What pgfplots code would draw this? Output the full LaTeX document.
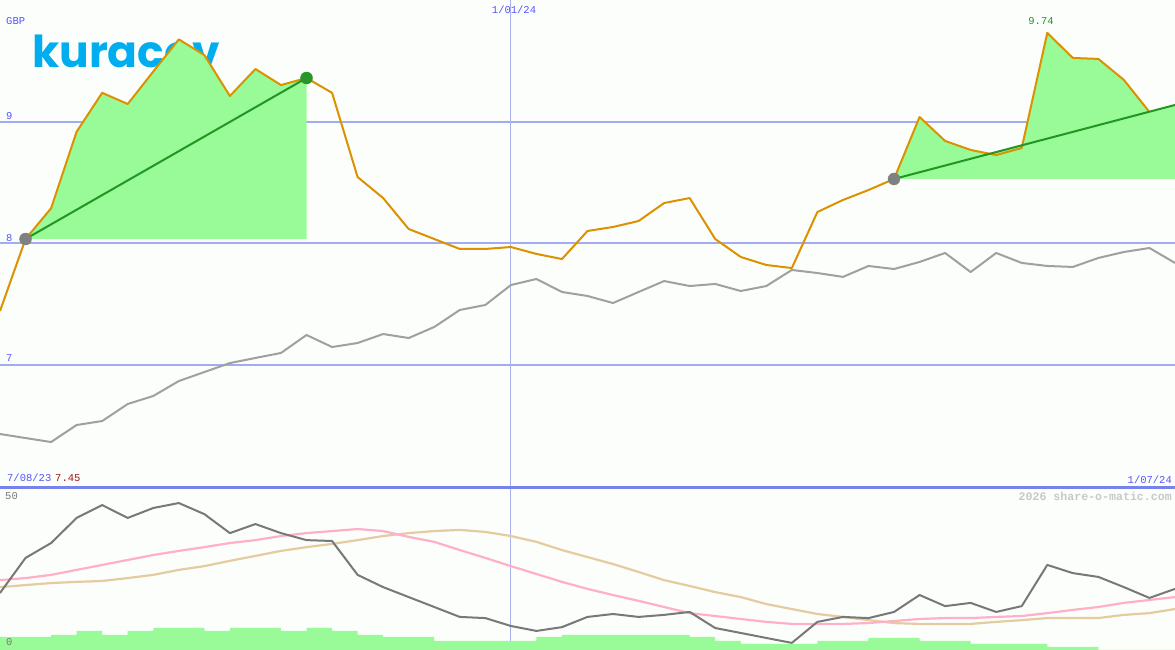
\documentclass[border=0pt]{standalone}
\usepackage{pgfplots}
\pgfplotsset{compat=1.18}
\usepackage{fontspec}
\setmainfont{Liberation Sans}
\newfontfamily\monofont{Liberation Mono}
\newfontfamily\logofont{Poppins}

\definecolor{bgcol}{RGB}{252,254,252}
\definecolor{gridblue}{RGB}{162,172,240}
\definecolor{vlineblue}{RGB}{170,176,236}
\definecolor{borderblue}{RGB}{120,130,236}
\definecolor{labelblue}{RGB}{85,85,255}
\definecolor{pricecol}{RGB}{220,145,0}
\definecolor{fillgreen}{RGB}{152,251,152}
\definecolor{trendgreen}{RGB}{34,150,34}
\definecolor{avgrey}{RGB}{160,160,160}
\definecolor{dotgrey}{RGB}{128,128,128}
\definecolor{dotgreen}{RGB}{40,150,40}
\definecolor{oscgrey}{RGB}{120,120,120}
\definecolor{oscpink}{RGB}{255,176,200}
\definecolor{osctan}{RGB}{228,204,160}
\definecolor{wmgrey}{RGB}{200,200,200}
\definecolor{startred}{RGB}{160,20,20}
\definecolor{logoblue}{RGB}{0,174,239}

\pgfplotsset{
  panel/.style={scale only axis, width=1175pt, xmin=0, xmax=46,
    axis line style={draw=none},
    xtick=\empty, ytick=\empty, clip=true},
}

% weekly closes, GBP (x = week from 7/08/23)
\pgfplotstableread{
x price
0 7.444
1 8.037
2 8.29
3 8.92
4 9.24
5 9.148
6 9.415
7 9.68
8 9.551
9 9.214
10 9.436
11 9.304
12 9.362
13 9.24
14 8.547
15 8.374
16 8.119
17 8.037
18 7.955
19 7.955
20 7.971
21 7.914
22 7.872
23 8.103
24 8.136
25 8.185
26 8.333
27 8.374
28 8.037
29 7.889
30 7.823
31 7.798
32 8.259
33 8.358
34 8.44
35 8.531
36 9.041
37 8.844
38 8.77
39 8.728
40 8.786
41 9.733
42 9.527
43 9.519
44 9.346
45 9.082
}\pricetab

% moving average
\pgfplotstableread{
x avg
0 6.432
1 6.399
2 6.366
3 6.506
4 6.539
5 6.679
6 6.745
7 6.868
8 6.942
9 7.016
10 7.058
11 7.099
12 7.247
13 7.148
14 7.181
15 7.255
16 7.222
17 7.313
18 7.453
19 7.494
20 7.658
21 7.708
22 7.601
23 7.568
24 7.510
25 7.601
26 7.691
27 7.650
28 7.667
29 7.609
30 7.650
31 7.782
32 7.757
33 7.725
34 7.815
35 7.790
36 7.848
37 7.922
38 7.765
39 7.922
40 7.840
41 7.815
42 7.807
43 7.881
44 7.930
45 7.963
46 7.840
}\avgtab

% lower panel: oscillator and its two averages
\pgfplotstableread{
x osc pink tan
0 18.5 22.9 20.5
1 30.5 23.6 21.2
2 35.6 24.7 21.9
3 44.2 26.4 22.3
4 48.6 28.1 22.6
5 44.2 29.8 23.6
6 47.6 31.5 24.7
7 49.3 32.9 26.4
8 45.5 34.2 27.7
9 39.0 35.6 29.5
10 42.1 36.6 31.2
11 39.0 38.0 32.9
12 36.6 39.0 34.2
13 36.3 39.7 35.3
14 24.7 40.4 36.6
15 20.5 39.7 38.0
16 17.1 37.7 39.0
17 13.7 36.0 39.7
18 10.3 33.2 40.1
19 9.9 30.5 39.4
20 7.2 27.7 38.0
21 5.5 25.0 36.0
22 6.8 22.3 33.2
23 10.3 19.9 30.8
24 11.3 17.8 28.4
25 10.3 15.8 25.7
26 11.0 13.7 22.9
27 12.0 11.6 20.9
28 6.5 10.6 18.8
29 4.8 9.6 17.1
30 3.1 8.6 14.7
31 1.4 7.9 13.0
32 8.6 7.9 11.3
33 10.3 7.9 10.3
34 9.9 8.2 9.2
35 12.0 8.9 8.2
36 17.8 9.6 7.9
37 14.0 9.9 7.9
38 15.1 9.9 7.9
39 12.0 10.3 8.6
40 14.0 10.6 9.2
41 28.1 11.6 9.9
42 25.3 12.7 9.9
43 24.0 13.7 9.9
44 20.5 15.1 11.0
45 16.8 16.1 11.6
46 19.9 17.1 13.0
}\osctab

\begin{document}
\begin{tikzpicture}[x=1pt,y=1pt]
\fill[bgcol] (0,0) rectangle (1175,650);
\node[anchor=base west, inner sep=0, text=logoblue,
  font=\logofont\bfseries\fontsize{44}{44}\selectfont] at (32,582.5) {kuracov};

% price panel
\begin{axis}[panel, anchor=north west, at={(0pt,650pt)}, height=487pt, ymin=5.996, ymax=10.004]
  \addplot[gridblue, line width=2pt] coordinates {(0,9) (46,9)};
  \addplot[gridblue, line width=2pt] coordinates {(0,8) (46,8)};
  \addplot[gridblue, line width=2pt] coordinates {(0,7) (46,7)};
  \addplot[vlineblue, line width=1pt] coordinates {(20,5.996) (20,10.004)};
  % rising stretches
  \addplot[fill=fillgreen, draw=none] coordinates {
    (1,8.037) (2,8.29) (3,8.92) (4,9.24) (5,9.148) (6,9.415) (7,9.68)
    (8,9.551) (9,9.214) (10,9.436) (11,9.304) (12,9.362) (12,8.037)};
  \addplot[fill=fillgreen, draw=none] coordinates {
    (35,8.531) (36,9.041) (37,8.844) (38,8.77) (38.75,8.739) (40.03,8.809)
    (41,9.733) (42,9.527) (43,9.519) (44,9.346) (45,9.085) (46,9.14) (46,8.531)};
  \addplot[only marks, mark=*, mark size=6pt, color=dotgrey] coordinates {(1,8.037) (35,8.531)};
  \addplot[avgrey, line width=2pt, line join=round] table[x=x, y=avg] {\avgtab};
  \addplot[pricecol, line width=2pt, line join=round] table[x=x, y=price] {\pricetab};
  \addplot[trendgreen, line width=2pt] coordinates {(1,8.037) (12,9.362)};
  \addplot[trendgreen, line width=2pt] coordinates {(35,8.531) (46,9.14)};
  \addplot[only marks, mark=*, mark size=6pt, color=dotgreen] coordinates {(12,9.362)};
\end{axis}

% oscillator panel
\begin{axis}[panel, anchor=south west, at={(0pt,0pt)}, height=163pt, ymin=-1.027, ymax=54.79]
  \addplot[vlineblue, line width=1pt] coordinates {(20,-1.027) (20,54.79)};
  \addplot[osctan, line width=2.2pt] table[x=x, y=tan] {\osctab};
  \addplot[oscpink, line width=2.2pt] table[x=x, y=pink] {\osctab};
  \addplot[oscgrey, line width=2pt, line join=round] table[x=x, y=osc] {\osctab};
\end{axis}

% volume
\begin{axis}[panel, anchor=south west, at={(0pt,0pt)}, height=163pt, ymin=0, ymax=163]
  \addplot[const plot, fill=fillgreen, draw=none] coordinates {
    (0,13) (1,13) (2,15) (3,19) (4,15) (5,19) (6,22) (7,22) (8,19) (9,22)
    (10,22) (11,19) (12,22) (13,19) (14,15) (15,13) (16,13) (17,9) (18,9)
    (19,9) (20,9) (21,13) (22,15) (23,15) (24,15) (25,15) (26,15) (27,13)
    (28,9) (29,6) (30,6) (31,6) (32,9) (33,9) (34,12) (35,12) (36,9) (37,9)
    (38,6) (39,6) (40,6) (41,3) (42,3) (43,0) (44,0) (45,0) (46,0) (46,0) (0,0)};
\end{axis}

\draw[borderblue, line width=2.5pt] (0,162.7) -- (1175,162.7);

\begin{scope}[every node/.style={inner sep=0, font=\monofont\fontsize{10.5}{10.5}\selectfont}]
  \node[anchor=west, text=labelblue] at (6,628.5) {GBP};
  \node[anchor=west, text=labelblue] at (6,534) {9};
  \node[anchor=west, text=labelblue] at (6,412) {8};
  \node[anchor=west, text=labelblue] at (6,292) {7};
  \node[text=labelblue] at (514,640.5) {1/01/24};
  \node[text=trendgreen] at (1041,629) {9.74};
  \node[anchor=west, text=labelblue] at (7,172) {7/08/23};
  \node[anchor=west, text=startred] at (55,172) {7.45};
  \node[anchor=east, text=labelblue] at (1172,170) {1/07/24};
  \node[anchor=west, text=oscgrey] at (5,154) {50};
  \node[anchor=west, text=oscgrey] at (6,8) {0};
  \node[anchor=east, text=wmgrey, font=\monofont\bfseries\fontsize{11.6}{11.6}\selectfont] at (1172,154) {2026 share-o-matic.com};
\end{scope}

\pgfresetboundingbox
\path[use as bounding box] (0,0) rectangle (1175,650);
\end{tikzpicture}
\end{document}
